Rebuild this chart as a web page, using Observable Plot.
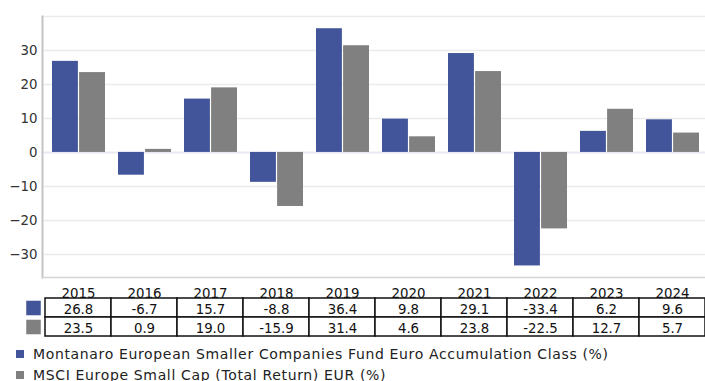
<!DOCTYPE html>
<html>
<head>
<meta charset="utf-8">
<script src="https://cdn.jsdelivr.net/npm/d3@7"></script>
<script src="https://cdn.jsdelivr.net/npm/@observablehq/plot@0.6"></script>
<style>
  html, body { margin: 0; padding: 0; background: #fff; }
  #chart { width: 705px; height: 381px; overflow: hidden; font-family: "DejaVu Sans", Verdana, sans-serif; }
  #chart svg { display: block; }
  .legend { padding-top: 8px; padding-left: 16px; font-size: 14px; letter-spacing: 0.65px; line-height: 21px; color: #222; }
  .legend-item { display: flex; align-items: center; white-space: nowrap; }
  .legend-swatch { width: 8px; height: 8px; margin-right: 9px; flex: none; position: relative; top: -1px; }
</style>
</head>
<body>
<div id="chart"></div>
<script>
// Calendar-year returns (%)
const years = [2015, 2016, 2017, 2018, 2019, 2020, 2021, 2022, 2023, 2024];
const fundReturns = [26.8, -6.7, 15.7, -8.8, 36.4, 9.8, 29.1, -33.4, 6.2, 9.6];
const indexReturns = [23.5, 0.9, 19.0, -15.9, 31.4, 4.6, 23.8, -22.5, 12.7, 5.7];
const seriesNames = [
  "Montanaro European Smaller Companies Fund Euro Accumulation Class (%)",
  "MSCI Europe Small Cap (Total Return) EUR (%)"
];
const seriesColors = ["#42559a", "#808080"];
const yTicks = [-30, -20, -10, 0, 10, 20, 30];
const gridLines = [-30, -20, -10, 10, 20, 30, 40];

// Long-form rows used by both the bars and the table
const rows = years.flatMap((year, i) => [
  { year, series: seriesNames[0], value: fundReturns[i] },
  { year, series: seriesNames[1], value: indexReturns[i] }
]);

const colorScale = { domain: seriesNames, range: seriesColors };
const font = { fontFamily: "DejaVu Sans, Verdana, sans-serif", fontSize: "13.33px", color: "#333", background: "#fff", overflow: "visible" };
// The year columns run slightly past the right edge of the page
const columnRange = [42, 708];

// Grouped bars: one band per year, the two series split each band in half
const bars = Plot.plot({
  width: 705,
  height: 278,
  marginTop: 16,
  marginBottom: 1,
  marginLeft: 42,
  marginRight: 0,
  style: font,
  x: { type: "band", domain: years, range: columnRange, paddingInner: 0.2, paddingOuter: 0.1, axis: null },
  y: { domain: [-36.8, 40], axis: null },
  color: colorScale,
  marks: [
    Plot.ruleY(gridLines, { stroke: "#ebebeb", strokeWidth: 1.5 }),
    Plot.ruleY([0], { stroke: "#e9e9f4", strokeWidth: 2 }),
    Plot.barY(rows.filter(d => d.series === seriesNames[0]), {
      x: "year", y: "value", fill: "series", insetRight: 27.1
    }),
    Plot.barY(rows.filter(d => d.series === seriesNames[1]), {
      x: "year", y: "value", fill: "series", insetLeft: 27.1
    }),
    Plot.axisY({ ticks: yTicks, tickSize: 0, tickPadding: 5, fill: "#333", label: null }),
    Plot.frame({ anchor: "left", stroke: "#c4c4c4", strokeWidth: 2 }),
    Plot.frame({ anchor: "bottom", stroke: "#d4d4d4", strokeWidth: 1.5 })
  ]
});

// Data table under the bars, with year headers and series swatches
const table = Plot.plot({
  width: 705,
  height: 58,
  marginTop: 20,
  marginBottom: 0,
  marginLeft: 42,
  marginRight: 0,
  style: font,
  x: { type: "band", domain: years, range: columnRange, padding: 0, axis: null },
  y: { type: "band", domain: seriesNames, padding: 0, axis: null },
  color: colorScale,
  marks: [
    Plot.axisX({ anchor: "top", tickSize: 0, tickPadding: 1, fill: "#111", label: null, tickFormat: d => String(d) }),
    Plot.cell(rows, { x: "year", y: "series", fill: "#fff", stroke: "#111", strokeWidth: 1.5 }),
    Plot.text(rows, { x: "year", y: "series", text: d => d.value.toFixed(1), fill: "#111", dy: 2 }),
    Plot.dot(seriesNames, { frameAnchor: "left", y: d => d, fill: d => d, symbol: "square", r: 8.2, dx: -9 })
  ]
});

const chart = document.getElementById("chart");
chart.append(bars, table);

// Legend below the table
const legend = document.createElement("div");
legend.className = "legend";
seriesNames.forEach((name, i) => {
  const item = document.createElement("div");
  item.className = "legend-item";
  const swatch = document.createElement("span");
  swatch.className = "legend-swatch";
  swatch.style.background = seriesColors[i];
  const label = document.createElement("span");
  label.textContent = name;
  item.append(swatch, label);
  legend.append(item);
});
chart.append(legend);
</script>
</body>
</html>
